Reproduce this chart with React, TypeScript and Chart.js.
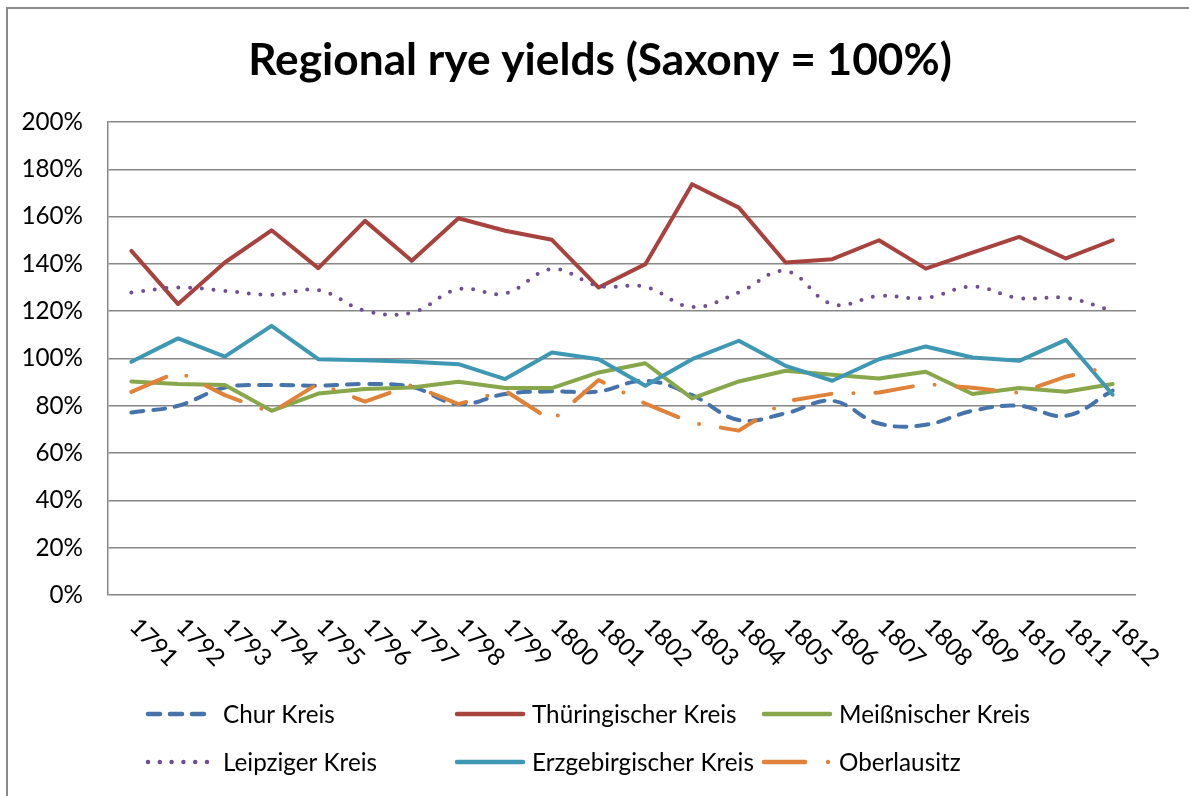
import React, { useEffect, useRef } from "react";
import { Chart, registerables } from "chart.js";

Chart.register(...registerables);

const TITLE = "Regional rye yields (Saxony = 100%)";
const years = ["1791","1792","1793","1794","1795","1796","1797","1798","1799","1800","1801","1802","1803","1804","1805","1806","1807","1808","1809","1810","1811","1812"];
const yTicks = [0, 20, 40, 60, 80, 100, 120, 140, 160, 180, 200];

const churKreis = [77.2, 80, 87.7, 88.8, 88.5, 89.2, 88, 80.7, 85, 86.1, 86.1, 90.6, 84.5, 74, 76.8, 82.1, 72.5, 72, 77.9, 80, 75.8, 86.4];
const thueringischerKreis = [145.5, 123, 140.6, 154.2, 138.2, 158.2, 141.3, 159.3, 154, 150.2, 130, 139.9, 173.7, 163.8, 140.6, 142, 150, 138, 144.8, 151.4, 142.3, 150];
const meissnischerKreis = [90.3, 89.2, 88.8, 77.9, 85.2, 87.1, 87.7, 90.2, 87.5, 87.5, 94.1, 98, 83.1, 90.3, 94.8, 93.1, 91.5, 94.4, 85, 87.5, 85.9, 89.2];
const leipzigerKreis = [127.9, 130, 128.6, 126.9, 128.9, 120.2, 119.4, 129.3, 127.5, 137.8, 130.7, 130.3, 121.8, 127.9, 137, 123, 126.4, 125.6, 130.4, 125.5, 125.6, 120.2];
const erzgebirgischerKreis = [98.6, 108.5, 100.8, 113.8, 99.7, 99.3, 98.6, 97.6, 91.3, 102.5, 99.7, 88.5, 99.7, 107.5, 96.9, 90.6, 99.7, 105.1, 100.4, 99, 107.9, 84.7];
const oberlausitz = [85.9, 94.4, 84.5, 77.2, 89.4, 81.8, 88.8, 80.7, 86.4, 73.7, 90.9, 80.9, 72.8, 69.5, 81.9, 85.1, 85.6, 89.2, 87.6, 85.5, 92.3, 96.9];

const seriesNames = ["Chur Kreis", "Thüringischer Kreis", "Meißnischer Kreis", "Leipziger Kreis", "Erzgebirgischer Kreis", "Oberlausitz"];

const FONT = "Lato";
const GRID = "#878787";

type Style = { color: string; dash: number[]; tension: number };
const styles: Style[] = [
  { color: "#4673AC", dash: [12, 10], tension: 0.4 },
  { color: "#A8423F", dash: [], tension: 0 },
  { color: "#87A74A", dash: [], tension: 0 },
  { color: "#6F4F93", dash: [0, 11.8], tension: 0.4 },
  { color: "#3F98B3", dash: [], tension: 0 },
  { color: "#E0823A", dash: [38, 22, 0, 22], tension: 0 },
];

function fitSize(text: string, target: number, weight: string): number {
  const c = document.createElement("canvas").getContext("2d")!;
  c.font = `${weight} 100px ${FONT}`;
  return (100 * target) / c.measureText(text).width;
}

export default function App() {
  const ref = useRef<HTMLCanvasElement | null>(null);

  useEffect(() => {
    document.body.style.margin = "0";
    const canvas = ref.current!;
    const titleSize = fitSize(TITLE, 704, "bold");
    const labelSize = fitSize("Erzgebirgischer Kreis", 222, "normal");

    const seriesData = [churKreis, thueringischerKreis, meissnischerKreis, leipzigerKreis, erzgebirgischerKreis, oberlausitz];

    const decor = {
      id: "decor",
      afterDraw(chart: any) {
        const ctx = chart.ctx as CanvasRenderingContext2D;
        ctx.save();
        ctx.strokeStyle = "#8a8a8a";
        ctx.lineWidth = 2;
        ctx.setLineDash([]);
        ctx.beginPath();
        ctx.moveTo(7, 796);
        ctx.lineTo(7, 8);
        ctx.lineTo(1189, 8);
        ctx.stroke();

        ctx.fillStyle = "#000";
        ctx.font = `bold ${titleSize}px ${FONT}`;
        ctx.textAlign = "center";
        ctx.textBaseline = "alphabetic";
        ctx.fillText(TITLE, 600, 75);

        const xs = chart.scales.x;
        ctx.font = `${labelSize}px ${FONT}`;
        ctx.textAlign = "left";
        years.forEach((y, i) => {
          const px = xs.getPixelForValue(i);
          ctx.save();
          ctx.translate(px - 3, 628);
          ctx.rotate(Math.PI / 4);
          ctx.fillText(y, 0, 0);
          ctx.restore();
        });

        const cols = [146, 455, 762];
        const rows = [714, 762];
        ctx.lineCap = "round";
        seriesNames.forEach((name, i) => {
          const cx = cols[i % 3];
          const cy = rows[Math.floor(i / 3)];
          const st = styles[i];
          ctx.strokeStyle = st.color;
          ctx.lineWidth = 4.5;
          if (i === 5) {
            ctx.setLineDash([]);
            ctx.beginPath();
            ctx.moveTo(cx + 2, cy);
            ctx.lineTo(cx + 43, cy);
            ctx.stroke();
            ctx.beginPath();
            ctx.arc(cx + 66, cy, 2.2, 0, Math.PI * 2);
            ctx.fillStyle = st.color;
            ctx.fill();
          } else {
            ctx.setLineDash(st.dash);
            ctx.beginPath();
            ctx.moveTo(cx + 2, cy);
            ctx.lineTo(cx + (st.dash.length ? 62 : 68), cy);
            ctx.stroke();
          }
          ctx.setLineDash([]);
          ctx.fillStyle = "#000";
          ctx.textAlign = "left";
          ctx.textBaseline = "alphabetic";
          ctx.fillText(name, cx + 77, cy + 8.5);
        });
        ctx.restore();
      },
    };

    const chart = new Chart(canvas, {
      type: "line",
      data: {
        labels: years,
        datasets: seriesData.map((d, i) => ({
          label: seriesNames[i],
          data: d,
          borderColor: styles[i].color,
          backgroundColor: styles[i].color,
          borderWidth: 4,
          borderDash: styles[i].dash,
          borderCapStyle: "round" as const,
          borderJoinStyle: "round" as const,
          tension: styles[i].tension,
          pointRadius: 0,
          pointHoverRadius: 0,
          fill: false,
          order: 5 - i,
        })),
      },
      options: {
        responsive: false,
        animation: false,
        events: [],
        layout: { padding: { left: 0, right: 53, top: 122, bottom: 0 } },
        plugins: {
          legend: { display: false },
          title: { display: false },
          tooltip: { enabled: false },
        },
        scales: {
          x: {
            type: "category",
            offset: true,
            grid: { display: false },
            border: { display: false },
            ticks: { display: false },
            afterFit(scale: any) {
              scale.height = 201;
            },
          },
          y: {
            min: 0,
            max: 200,
            afterBuildTicks(scale: any) {
              scale.ticks = yTicks.map((v) => ({ value: v }));
            },
            grid: { color: GRID, lineWidth: 1.5, drawTicks: false },
            border: { display: true, color: GRID, width: 1.5 },
            ticks: {
              padding: 25,
              color: "#000",
              font: { family: FONT, size: labelSize },
              callback: (v: any) => `${v}%`,
            },
            afterFit(scale: any) {
              scale.width = 108;
            },
          },
        },
      },
      plugins: [decor],
    });
    return () => chart.destroy();
  }, []);

  return <canvas ref={ref} width={1189} height={796} style={{ display: "block" }} />;
}
